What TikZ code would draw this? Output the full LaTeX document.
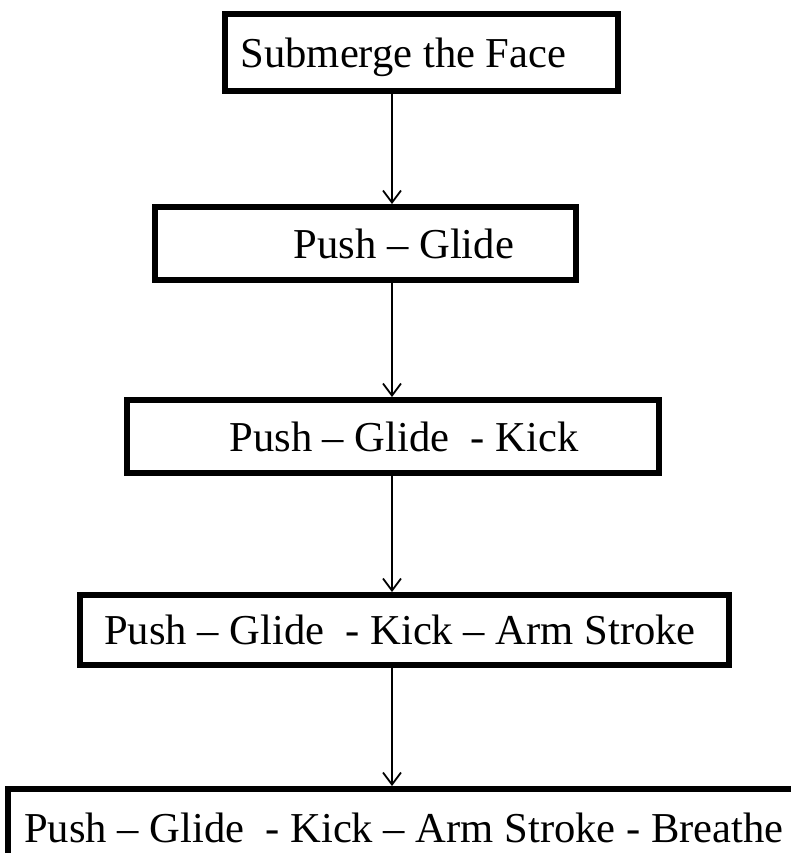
\documentclass[tikz,border=0pt]{standalone}
\usepackage{fontspec}
\setmainfont{Liberation Serif}
\usetikzlibrary{arrows.meta}

\begin{document}
\begin{tikzpicture}[
  x=0.5pt,y=-0.5pt,
  box/.style={draw,line width=3pt,inner sep=0pt,text depth=0pt,font=\fontsize{21.3}{25}\selectfont},
  arr/.style={-{Straight Barb[length=6pt,width=9pt]},line width=0.9pt}
]
\useasboundingbox (0,0) rectangle (791,853);
\clip (0,0) rectangle (791,853);
\node[box,minimum width=196.5pt,minimum height=38.5pt] (face) at (421.5,52.5) {Submerge the Face\hspace*{18pt}};
\node[box,minimum width=210.5pt,minimum height=36.5pt] (glide) at (365.5,243.5) {\hspace*{38.5pt}Push – Glide};
\node[box,minimum width=266pt,minimum height=36.5pt] (kick) at (393,436.5) {\hspace*{11pt}Push – Glide\ \ - Kick};
\node[box,minimum width=324.5pt,minimum height=35pt] (stroke) at (404.5,630) {Push – Glide\ \ - Kick – Arm Stroke\hspace*{4.5pt}};
\node[box,minimum width=396pt,minimum height=39pt] (breathe) at (404,828) {Push – Glide\ \ - Kick – Arm Stroke - Breathe};
\coordinate (mid) at (392,0);
\draw[arr] (face.south -| mid) -- (glide.north -| mid);
\draw[arr] (glide.south -| mid) -- (kick.north -| mid);
\draw[arr] (kick.south -| mid) -- (stroke.north -| mid);
\draw[arr] (stroke.south -| mid) -- (breathe.north -| mid);
\end{tikzpicture}
\end{document}
